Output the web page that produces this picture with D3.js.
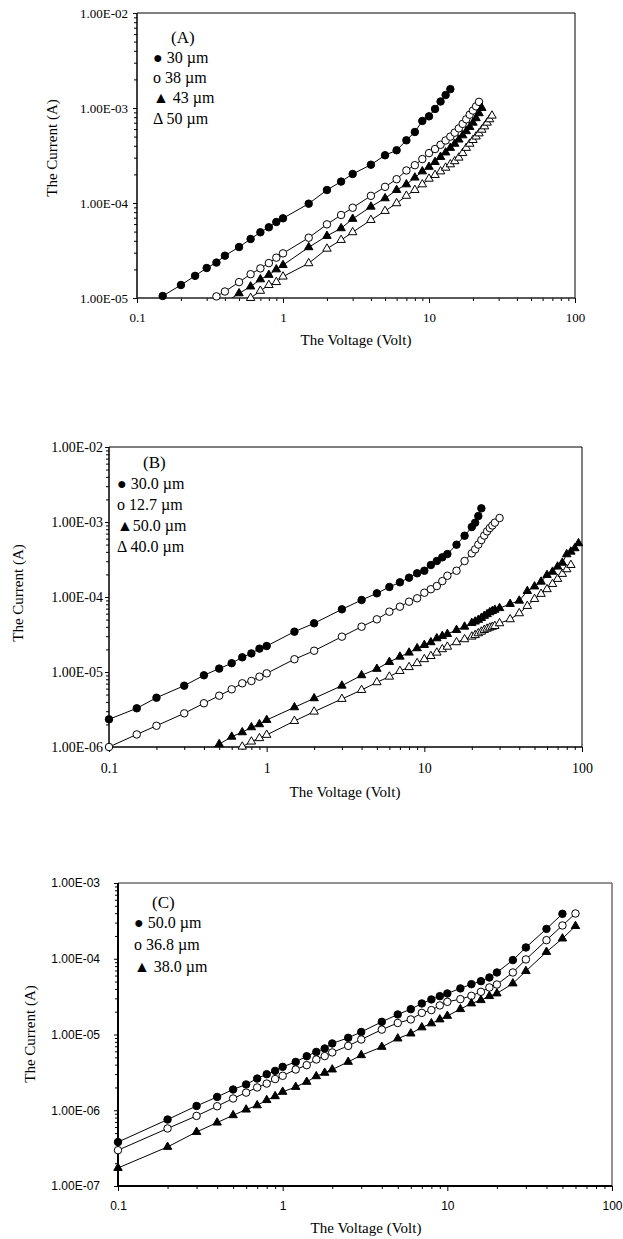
<!DOCTYPE html>
<html lang="en">
  <head>
    <meta charset="utf-8">
    <style>
      body { margin: 0; background: #fff; }
      svg text { font-family: "Liberation Serif", "Times New Roman", serif; fill: #000; }
      .curve { fill: none; stroke: #000; stroke-width: 1; }
      .tick line { stroke: #000; }
    </style>
  </head>
  <body>
  </body>
  <script src="https://d3js.org/d3.v7.min.js"></script>

  <script>
  // ---- panel (A) ----
  var voltA1 = [0.1,0.15,0.2,0.25,0.3,0.35,0.4,0.5,0.6,0.7,0.8,0.9,1,1.5,2,2.5,3,4,5,6,7,8,9,10,11,12,13,14];
  var curA1 = [7.2e-6,1.05e-5,1.37e-5,1.71e-5,2.07e-5,2.36e-5,2.79e-5,3.44e-5,4.18e-5,4.92e-5,5.55e-5,6.31e-5,6.9e-5,
    9.84e-5,1.37e-4,1.68e-4,2.02e-4,2.53e-4,3.18e-4,3.59e-4,4.57e-4,5.59e-4,7.3e-4,8.17e-4,9.77e-4,1.17e-3,1.37e-3,1.58e-3];
  var voltA2 = [0.3,0.35,0.4,0.5,0.6,0.7,0.8,0.9,1,1.5,2,2.5,3,4,5,6,7,8,9,10,11,12,13,14,15,16,17,18,19,20,21,22];
  var curA2 = [9.3e-6,1.04e-5,1.17e-5,1.47e-5,1.78e-5,2.05e-5,2.33e-5,2.66e-5,2.95e-5,4.31e-5,5.96e-5,7.48e-5,8.92e-5,
    1.19e-4,1.48e-4,1.78e-4,2.2e-4,2.5e-4,2.9e-4,3.35e-4,3.7e-4,4.1e-4,4.55e-4,5.0e-4,5.5e-4,6.1e-4,6.8e-4,7.6e-4,
    8.5e-4,9.4e-4,1.04e-3,1.16e-3];
  var voltA3 = [0.4,0.5,0.6,0.7,0.8,0.9,1,1.5,2,2.5,3,4,5,6,7,8,9,10,11,12,13,14,15,16,17,18,19,20,21,22,23];
  var curA3 = [8.9e-6,1.12e-5,1.32e-5,1.57e-5,1.75e-5,2.0e-5,2.22e-5,3.42e-5,4.5e-5,5.42e-5,6.8e-5,9.14e-5,1.12e-4,
    1.37e-4,1.57e-4,1.85e-4,2.15e-4,2.4e-4,2.7e-4,3.05e-4,3.4e-4,3.8e-4,4.2e-4,4.65e-4,5.15e-4,5.7e-4,6.3e-4,7.0e-4,
    7.8e-4,8.8e-4,1.0e-3];
  var voltA4 = [0.5,0.6,0.7,0.8,0.9,1,1.5,2,2.5,3,4,5,6,7,8,9,10,11,12,13,14,15,16,17,18,19,20,21,22,23,24,25,26,27];
  var curA4 = [8.2e-6,1.0e-5,1.19e-5,1.37e-5,1.47e-5,1.68e-5,2.32e-5,3.3e-5,4.08e-5,4.92e-5,6.62e-5,8.24e-5,9.93e-5,
    1.19e-4,1.37e-4,1.57e-4,1.8e-4,1.97e-4,2.15e-4,2.35e-4,2.55e-4,2.75e-4,3.0e-4,3.35e-4,3.8e-4,4.2e-4,4.6e-4,
    5.0e-4,5.4e-4,5.9e-4,6.4e-4,7.0e-4,7.6e-4,8.3e-4];
  var legendA = ["\u25CF 30 \u00B5m", "o 38 \u00B5m", "\u25B2 43 \u00B5m", "\u0394 50 \u00B5m"];

  // ---- panel (B) ----
  var voltB1 = [0.1,0.15,0.2,0.3,0.4,0.5,0.6,0.7,0.8,0.9,1,1.5,2,3,4,5,6,7,8,9,10,11,12,13,14,16,18,20,21,22,23];
  var curB1 = [2.34e-6,3.28e-6,4.54e-6,6.57e-6,9.04e-6,1.11e-5,1.31e-5,1.57e-5,1.77e-5,2.05e-5,2.22e-5,3.45e-5,4.46e-5,
    6.85e-5,9.12e-5,1.12e-4,1.36e-4,1.57e-4,1.81e-4,2.07e-4,2.24e-4,2.67e-4,3.02e-4,3.38e-4,3.74e-4,4.98e-4,6.56e-4,
    8.57e-4,9.79e-4,1.2e-3,1.52e-3];
  var voltB2 = [0.1,0.15,0.2,0.3,0.4,0.5,0.6,0.7,0.8,0.9,1,1.5,2,3,4,5,6,7,8,9,10,11,12,13,14,16,18,20,21,22,23,24,25,26,27,28,30];
  var curB2 = [1.0e-6,1.47e-6,1.92e-6,2.81e-6,3.83e-6,4.83e-6,5.88e-6,7.07e-6,7.59e-6,8.66e-6,9.6e-6,1.48e-5,1.92e-5,
    2.96e-5,4.02e-5,5.04e-5,6.37e-5,7.43e-5,8.66e-5,9.61e-5,1.14e-4,1.27e-4,1.4e-4,1.63e-4,1.92e-4,2.24e-4,3.02e-4,
    3.82e-4,4.32e-4,5.0e-4,5.75e-4,6.6e-4,7.5e-4,8.3e-4,9.0e-4,9.8e-4,1.13e-3];
  var voltB3 = [0.4,0.5,0.6,0.7,0.8,0.9,1,1.5,2,3,4,5,6,7,8,9,10,11,12,13,14,16,18,20,21,22,23,24,25,26,27,28,30,
    35,40,45,50,55,60,65,70,75,80,85,90,95];
  var curB3 = [8.5e-7,1.09e-6,1.37e-6,1.57e-6,1.83e-6,2.01e-6,2.29e-6,3.38e-6,4.46e-6,6.57e-6,9.04e-6,1.1e-5,1.36e-5,
    1.6e-5,1.81e-5,2.07e-5,2.29e-5,2.49e-5,2.81e-5,3.02e-5,3.21e-5,3.63e-5,4.02e-5,4.5e-5,4.7e-5,4.95e-5,5.25e-5,
    5.6e-5,5.9e-5,6.25e-5,6.5e-5,6.75e-5,7.1e-5,8.07e-5,8.93e-5,1.2e-4,1.38e-4,1.6e-4,1.96e-4,2.17e-4,2.54e-4,
    2.86e-4,3.71e-4,4.02e-4,4.46e-4,5.2e-4];
  var voltB4 = [0.6,0.7,0.8,0.9,1,1.5,2,3,4,5,6,7,8,9,10,11,12,13,14,16,18,20,21,22,23,24,25,26,27,28,30,
    35,40,45,50,55,60,65,70,75,80,85];
  var curB4 = [8.5e-7,1.01e-6,1.18e-6,1.31e-6,1.45e-6,2.22e-6,2.96e-6,4.37e-6,5.75e-6,7.29e-6,8.66e-6,1.03e-5,1.16e-5,
    1.31e-5,1.48e-5,1.63e-5,1.81e-5,2.01e-5,2.17e-5,2.49e-5,2.73e-5,2.96e-5,3.1e-5,3.28e-5,3.45e-5,3.63e-5,3.77e-5,
    3.9e-5,4.0e-5,4.1e-5,4.46e-5,5.04e-5,6.06e-5,7.59e-5,9.4e-5,1.1e-4,1.27e-4,1.49e-4,1.74e-4,2.03e-4,2.34e-4,2.67e-4];
  var legendB = ["\u25CF 30.0 \u00B5m", "o 12.7 \u00B5m", "\u25B250.0 \u00B5m", "\u0394 40.0 \u00B5m"];

  // ---- panel (C) ----
  var voltC = [0.1,0.2,0.3,0.4,0.5,0.6,0.7,0.8,0.9,1,1.2,1.4,1.6,1.8,2,2.5,3,4,5,6,7,8,9,10,12,14,16,18,20,25,30,40,50,60];
  var curC1 = [3.8e-7,7.54e-7,1.14e-6,1.5e-6,1.88e-6,2.19e-6,2.62e-6,2.99e-6,3.31e-6,3.74e-6,4.35e-6,5.17e-6,5.89e-6,
    6.54e-6,7.62e-6,9.04e-6,1.08e-5,1.47e-5,1.84e-5,2.16e-5,2.57e-5,2.9e-5,3.21e-5,3.48e-5,4.06e-5,4.62e-5,5.06e-5,
    5.66e-5,6.59e-5,9.6e-5,1.41e-4,2.48e-4,3.92e-4];
  var curC2 = [2.97e-7,5.75e-7,8.42e-7,1.13e-6,1.43e-6,1.71e-6,2.0e-6,2.25e-6,2.58e-6,2.85e-6,3.45e-6,3.94e-6,4.68e-6,
    5.19e-6,5.8e-6,7.07e-6,8.59e-6,1.16e-5,1.42e-5,1.58e-5,1.93e-5,2.1e-5,2.42e-5,2.7e-5,2.93e-5,3.24e-5,3.66e-5,
    4.18e-5,4.57e-5,6.59e-5,9.8e-5,1.76e-4,2.75e-4,3.96e-4];
  var curC3 = [1.73e-7,3.28e-7,5.17e-7,6.87e-7,8.59e-7,1.02e-6,1.16e-6,1.36e-6,1.53e-6,1.75e-6,2.03e-6,2.37e-6,2.81e-6,
    3.12e-6,3.45e-6,4.35e-6,5.33e-6,6.86e-6,8.85e-6,1.03e-5,1.24e-5,1.4e-5,1.58e-5,1.76e-5,2.16e-5,2.57e-5,2.84e-5,
    3.21e-5,3.48e-5,4.72e-5,6.87e-5,1.23e-4,1.85e-4,2.7e-4];
  var legendC = ["\u25CF 50.0 \u00B5m", "o 36.8 \u00B5m", "\u25B2 38.0 \u00B5m"];

  // shared axis ticks
  var xTicks = [0.1, 1, 10, 100];
  var xTickLabels = ["0.1", "1", "10", "100"];
  var yTicksAB = [1e-6, 1e-5, 1e-4, 1e-3, 1e-2];
  var yTicksC = [1e-7, 1e-6, 1e-5, 1e-4, 1e-3];
  var xTitle = "The Voltage (Volt)";
  var yTitle = "The Current (A)";

  var width = 623;
  var height = 1239;

  var svg = d3.select("body")
    .append("svg")
    .attr("width", width)
    .attr("height", height);

  // 1.00E-05 style labels
  function expLabel(v) {
    var parts = d3.format(".2e")(v).split("e");
    var e = +parts[1];
    return parts[0] + "E" + (e < 0 ? "-" : "+") + d3.format("02")(Math.abs(e));
  }

  function isDecade(t) {
    var l = Math.log10(t);
    return Math.abs(l - Math.round(l)) < 1e-6;
  }

  var symCircle = d3.symbol().type(d3.symbolCircle).size(44);
  var symTri = d3.symbol().type(d3.symbolTriangle).size(31);

  function drawPanel(p) {
    var x = d3.scaleLog().domain([0.1, 100]).range([p.left, p.right]);
    var y = d3.scaleLog().domain(p.yDomain).range([p.bottom, p.top]);
    var g = svg.append("g");

    g.append("clipPath").attr("id", "clip" + p.id)
      .append("rect")
      .attr("x", p.left).attr("y", p.top)
      .attr("width", p.right - p.left).attr("height", p.bottom - p.top);

    // minor + major ticks, bottom
    var xMinor = x.ticks().filter(function(t) { return !isDecade(t); });
    g.append("g")
      .attr("transform", "translate(0," + p.bottom + ")")
      .call(d3.axisBottom(x).tickValues(xMinor).tickSize(3).tickFormat(""))
      .call(function(a) { a.select(".domain").remove(); });
    g.append("g")
      .attr("transform", "translate(0," + p.bottom + ")")
      .call(d3.axisBottom(x).tickValues(xTicks).tickSize(5).tickPadding(p.xPad)
        .tickFormat(function(d, i) { return xTickLabels[i]; }))
      .call(function(a) {
        a.select(".domain").remove();
        a.selectAll("text").attr("fill", "#000")
          .style("font-family", p.tickFont).style("font-size", p.tickSize + "px");
      });

    // left ticks
    var yMajor = p.yTicks.filter(function(t) { return t >= p.yDomain[0] && t <= p.yDomain[1]; });
    var yMinor = y.ticks().filter(function(t) { return !isDecade(t); });
    g.append("g")
      .attr("transform", "translate(" + p.left + ",0)")
      .call(d3.axisLeft(y).tickValues(yMinor).tickSize(3).tickFormat(""))
      .call(function(a) { a.select(".domain").remove(); });
    g.append("g")
      .attr("transform", "translate(" + p.left + ",0)")
      .call(d3.axisLeft(y).tickValues(yMajor).tickSize(4).tickPadding(p.yPad).tickFormat(expLabel))
      .call(function(a) {
        a.select(".domain").remove();
        a.selectAll("text").attr("fill", "#000")
          .style("font-family", p.tickFont).style("font-size", p.tickSize + "px");
      });

    // frame
    g.append("line").attr("x1", p.left).attr("x2", p.right).attr("y1", p.top).attr("y2", p.top)
      .attr("stroke", p.frameColor).attr("stroke-width", p.frameWidth);
    g.append("line").attr("x1", p.right).attr("x2", p.right).attr("y1", p.top).attr("y2", p.bottom)
      .attr("stroke", p.frameColor).attr("stroke-width", p.frameWidth);
    g.append("line").attr("x1", p.left).attr("x2", p.left).attr("y1", p.top).attr("y2", p.bottom)
      .attr("stroke", "#000").attr("stroke-width", p.axisWidth);
    g.append("line").attr("x1", p.left).attr("x2", p.right).attr("y1", p.bottom).attr("y2", p.bottom)
      .attr("stroke", p.bottomColor).attr("stroke-width", p.axisWidth);

    var line = d3.line()
      .x(function(d) { return x(d[0]); })
      .y(function(d) { return y(d[1]); });

    p.series.forEach(function(s) {
      var pts = d3.zip(s.v, s.i);
      g.append("path")
        .datum(pts)
        .attr("class", "curve")
        .attr("clip-path", "url(#clip" + p.id + ")")
        .attr("d", line);

      var shown = pts.filter(function(d) {
        return d[1] >= p.yDomain[0] / 1.02 && d[1] <= p.yDomain[1];
      });
      g.selectAll(null)
        .data(shown)
        .enter().append("path")
        .attr("transform", function(d) { return "translate(" + x(d[0]) + "," + y(d[1]) + ")"; })
        .attr("d", s.mark === "dot" || s.mark === "ring" ? symCircle : symTri)
        .attr("fill", s.mark === "dot" || s.mark === "tri" ? "#000" : "#fff")
        .attr("stroke", "#000")
        .attr("stroke-width", 1);
    });

    // panel tag and legend
    g.append("text")
      .attr("x", p.tag[1]).attr("y", p.tag[2]).attr("dy", "0.35em")
      .style("font-size", p.tagSize + "px")
      .text(p.tag[0]);
    g.selectAll(null)
      .data(p.legend)
      .enter().append("text")
      .attr("x", p.legX)
      .attr("y", function(d, i) { return p.legY + i * p.legStep; })
      .attr("dy", "0.35em")
      .style("font-size", p.legSize + "px")
      .text(function(d) { return d; });

    // axis titles
    g.append("text")
      .attr("x", p.xTitle[0]).attr("y", p.xTitle[1]).attr("dy", "0.35em")
      .attr("text-anchor", "middle")
      .style("font-size", p.titleSize + "px")
      .text(xTitle);
    g.append("text")
      .attr("transform", "translate(" + p.yTitle[0] + "," + p.yTitle[1] + ") rotate(-90)")
      .attr("dy", "0.35em")
      .attr("text-anchor", "middle")
      .style("font-size", p.titleSize + "px")
      .text(yTitle);
  }

  drawPanel({
    id: "A", left: 137, right: 575, top: 13, bottom: 298,
    yDomain: [1e-5, 1e-2], yTicks: yTicksAB,
    tickFont: "Liberation Serif", tickSize: 13, xPad: 10, yPad: 5,
    frameColor: "#000", frameWidth: 1, axisWidth: 1.5, bottomColor: "#222",
    series: [
      { v: voltA1, i: curA1, mark: "dot" },
      { v: voltA2, i: curA2, mark: "ring" },
      { v: voltA3, i: curA3, mark: "tri" },
      { v: voltA4, i: curA4, mark: "otri" }
    ],
    tag: ["(A)", 171, 37], tagSize: 17,
    legend: legendA, legX: 153, legY: 57, legStep: 20.3, legSize: 16,
    xTitle: [356, 340], yTitle: [52, 148], titleSize: 15
  });

  drawPanel({
    id: "B", left: 109, right: 582, top: 447, bottom: 747,
    yDomain: [1e-6, 1e-2], yTicks: yTicksAB,
    tickFont: "Liberation Serif", tickSize: 14, xPad: 11, yPad: 2,
    frameColor: "#000", frameWidth: 1, axisWidth: 1.5, bottomColor: "#000",
    series: [
      { v: voltB1, i: curB1, mark: "dot" },
      { v: voltB2, i: curB2, mark: "ring" },
      { v: voltB3, i: curB3, mark: "tri" },
      { v: voltB4, i: curB4, mark: "otri" }
    ],
    tag: ["(B)", 143, 462], tagSize: 17,
    legend: legendB, legX: 117, legY: 483, legStep: 21, legSize: 16,
    xTitle: [345, 792], yTitle: [18, 593], titleSize: 15
  });

  drawPanel({
    id: "C", left: 118, right: 612, top: 883, bottom: 1186,
    yDomain: [1e-7, 1e-3], yTicks: yTicksC,
    tickFont: "Liberation Sans", tickSize: 12, xPad: 10, yPad: 14,
    frameColor: "#6e6e6e", frameWidth: 1.5, axisWidth: 2, bottomColor: "#000",
    series: [
      { v: voltC, i: curC1, mark: "dot" },
      { v: voltC, i: curC2, mark: "ring" },
      { v: voltC, i: curC3, mark: "tri" }
    ],
    tag: ["(C)", 152, 902], tagSize: 17,
    legend: legendC, legX: 134, legY: 922, legStep: 22, legSize: 16,
    xTitle: [366, 1228], yTitle: [30, 1034], titleSize: 15
  });

  </script>
</html>
